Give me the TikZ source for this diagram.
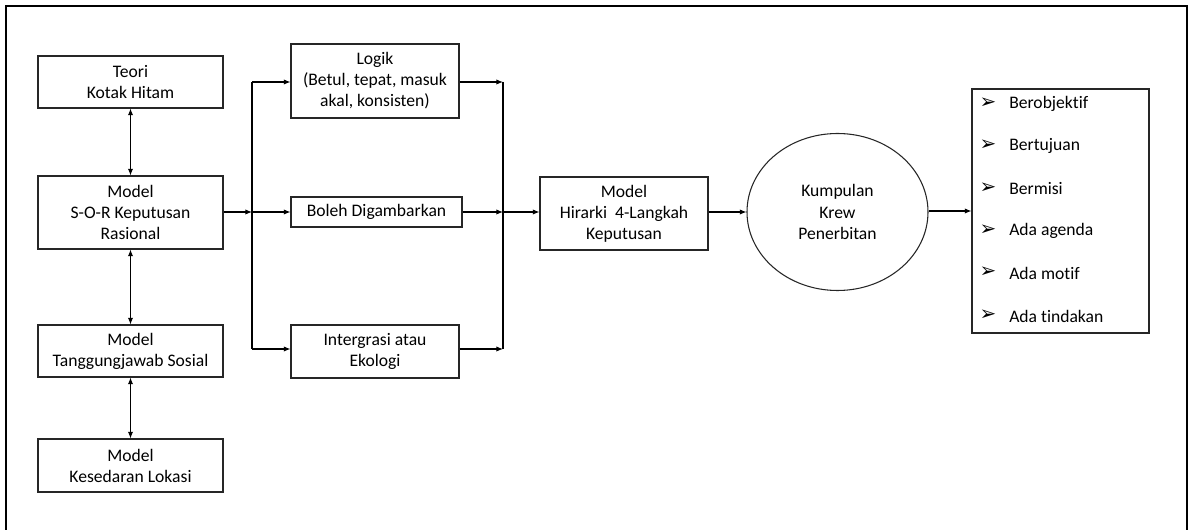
\documentclass[tikz,border=0pt]{standalone}
\usepackage{fontspec}
\setmainfont[RawFeature=-liga]{Carlito}
\newfontfamily\dingfont{DejaVu Sans}
\usetikzlibrary{arrows.meta,shapes.geometric}

\begin{document}
\begin{tikzpicture}[x=0.75pt,y=-0.75pt,
  every node/.style={font=\fontsize{13.2}{15.8}\selectfont},
  box/.style={draw=black!85,line width=0.8pt,inner sep=0pt,align=center},
  link/.style={line width=0.8pt,-{Latex[length=5pt,width=4pt]}},
  both/.style={line width=0.8pt,{Latex[length=5pt,width=4pt]}-{Latex[length=5pt,width=4pt]}},
  plain/.style={line width=0.8pt},
  item/.style={anchor=west,inner sep=0pt},
  bullet/.style={inner sep=0pt,font=\dingfont\fontsize{15}{15}\selectfont}]

\useasboundingbox (0,0) rectangle (1193,530);
% outer frame (runs past the lower edge)
\draw[line width=1.1pt] (6,540) -- (6,6) -- (1187,6) -- (1187,540);

% left column of models
\node[box,minimum width=185*0.75pt,minimum height=52*0.75pt] (teori) at (130.5,82) {Teori\\Kotak Hitam};
\node[box,minimum width=185*0.75pt,minimum height=73*0.75pt] (sor) at (130.5,212.5) {Model\\S-O-R Keputusan\\Rasional};
\node[box,minimum width=185*0.75pt,minimum height=52*0.75pt] (tang) at (130.5,351) {Model\\Tanggungjawab Sosial};
\node[box,minimum width=185*0.75pt,minimum height=53*0.75pt] (kes) at (130.5,465.5) {Model\\Kesedaran Lokasi};

% middle column
\node[box,minimum width=168*0.75pt,minimum height=74*0.75pt] (logik) at (375,81) {Logik\\(Betul, tepat, masuk\\akal, konsisten)};
\node[box,minimum width=171*0.75pt,minimum height=30*0.75pt] (boleh) at (376.5,212) {Boleh Digambarkan};
\node[box,minimum width=168*0.75pt,minimum height=53*0.75pt] (inter) at (375,351.5) {Intergrasi atau\\Ekologi};

\node[box,minimum width=168*0.75pt,minimum height=73*0.75pt] (hir) at (624,213.5) {Model\\Hirarki\ \ 4-Langkah\\Keputusan};
\node[draw=black!85,line width=0.8pt,ellipse,inner sep=0pt,minimum width=181*0.75pt,minimum height=157*0.75pt,align=center] (krew) at (837.5,212) {Kumpulan\\Krew\\Penerbitan};

% list of attributes
\node[box,minimum width=177*0.75pt,minimum height=244*0.75pt] (list) at (1060.5,211) {};
\foreach \t [count=\i] in {Berobjektif,Bertujuan,Bermisi,Ada agenda,Ada motif,Ada tindakan}{
  \node[bullet] (b\i) at (988,{103+(\i-1)*42.4}) {➢};
  \node[item] (t\i) at (1009,{104+(\i-1)*42.4}) {\t};
}

% junctions
\coordinate (jl) at (252,212);
\coordinate (jlt) at (252,82);
\coordinate (jlb) at (252,349);
\coordinate (jr) at (503,212);
\coordinate (jrt) at (503,82);
\coordinate (jrb) at (503,349);

% vertical links between models
\draw[both] (teori) -- (sor);
\draw[both] (sor) -- (tang);
\draw[both] (tang) -- (kes);

% fan out
\draw[link] (sor.east |- jl) -- (jl);
\draw[plain] (jlt) -- (jlb);
\draw[link] (jlt) -- (logik.west |- jlt);
\draw[link] (jl) -- (boleh.west |- jl);
\draw[link] (jlb) -- (inter.west |- jlb);

% fan in
\draw[link] (logik.east |- jrt) -- (jrt);
\draw[link] (boleh.east |- jr) -- (jr);
\draw[link] (inter.east |- jrb) -- (jrb);
\draw[plain] (jrt) -- (jrb);
\draw[link] (jr) -- (hir.west |- jr);

\draw[link] (hir.east |- jr) -- (krew.west |- jr);
\draw[link] (krew.east |- 0,211) -- (list.west |- 0,211);
\end{tikzpicture}
\end{document}
